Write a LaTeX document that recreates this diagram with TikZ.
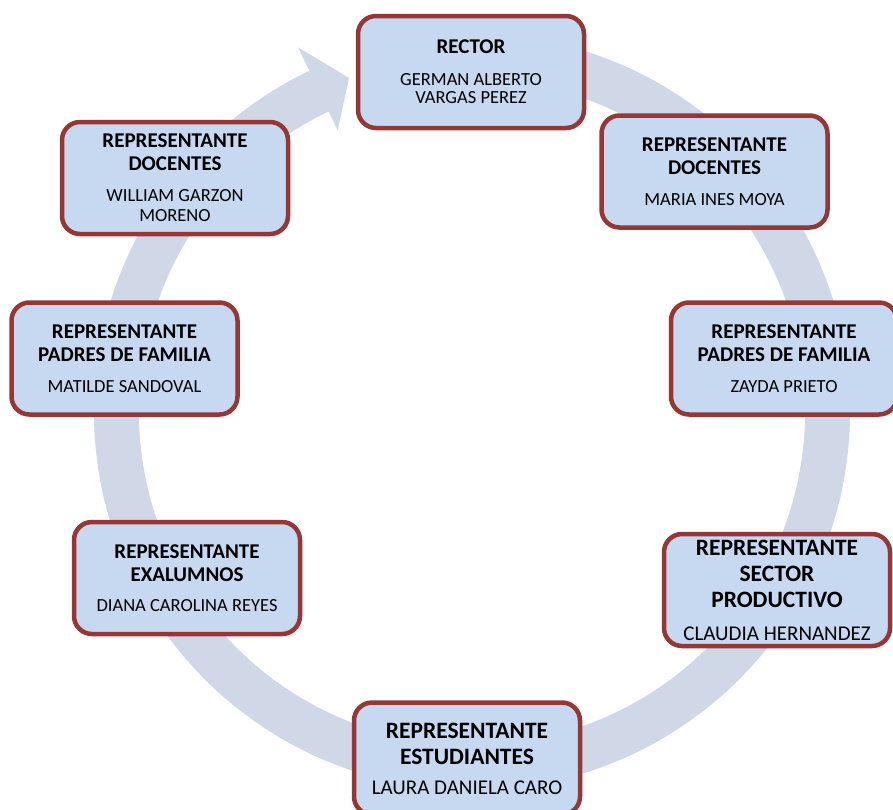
\documentclass[tikz,border=0pt]{standalone}
\usepackage{fontspec}
\setmainfont{Carlito}
\usepackage{tikz}
\usetikzlibrary{calc,positioning,shapes}
\definecolor{anillo}{HTML}{D0D8E8}
\definecolor{relleno}{HTML}{C6D9F1}
\definecolor{borde}{HTML}{953735}
\newcommand{\nombre}[1]{{\mdseries\fontsize{18.5}{19}\selectfont #1}}
\newcommand{\nombreg}[1]{{\mdseries\fontsize{21}{22}\selectfont #1}}

\begin{document}
\begin{tikzpicture}[x=1pt,y=-1pt,
		miembro/.style={draw=borde,fill=relleno,line width=4.5pt,rounded corners=18pt,
			minimum width=226pt,minimum height=112pt,inner sep=0pt,align=center,
			font=\bfseries\fontsize{21}{23.3}\selectfont},
		grande/.style={font=\bfseries\fontsize{23.5}{26}\selectfont}]
		\useasboundingbox (0,0) rectangle (893,809);
		\clip (0,0) rectangle (893,809);
		\coordinate (c) at (472,412);
		\fill[anillo] ($(c)+(-85:378)$) arc[start angle=-85,end angle=244.5,radius=378]
			-- ($(c)+(244.5:404)$) -- ($(c)+(249.8:356)$) -- ($(c)+(244.5:312)$)
			-- ($(c)+(244.5:333)$) arc[start angle=244.5,end angle=-85,radius=333] -- cycle;
		\node[miembro] (rector) at (471,72)
			{RECTOR\\[8.4pt] \nombre{GERMAN ALBERTO}\\[-5pt] \nombre{VARGAS PEREZ}};
		\node[miembro] (docentesDer) at (714.5,171.5)
			{REPRESENTANTE\\ DOCENTES\\[7pt] \nombre{MARIA INES MOYA}};
		\node[miembro] (padresDer) at (784,358.5)
			{REPRESENTANTE\\ PADRES DE FAMILIA\\[7pt] \nombre{ZAYDA PRIETO}};
		\node[miembro,grande] (sector) at (777,590)
			{REPRESENTANTE\\ SECTOR\\ PRODUCTIVO\\[7pt] \nombreg{CLAUDIA HERNANDEZ}};
		\node[miembro,grande] (estudiantes) at (467,758.5)
			{REPRESENTANTE\\ ESTUDIANTES\\[4pt] \nombreg{LAURA DANIELA CARO}};
		\node[miembro] (exalumnos) at (187,578)
			{REPRESENTANTE\\ EXALUMNOS\\[7pt] \nombre{DIANA CAROLINA REYES}};
		\node[miembro] (padresIzq) at (124.5,358.5)
			{REPRESENTANTE\\ PADRES DE FAMILIA\\[7pt] \nombre{MATILDE SANDOVAL}};
		\node[miembro] (docentesIzq) at (175,178)
			{REPRESENTANTE\\ DOCENTES\\[7.7pt] \nombre{WILLIAM GARZON}\\[-3.3pt] \nombre{MORENO}};
\end{tikzpicture}
\end{document}
